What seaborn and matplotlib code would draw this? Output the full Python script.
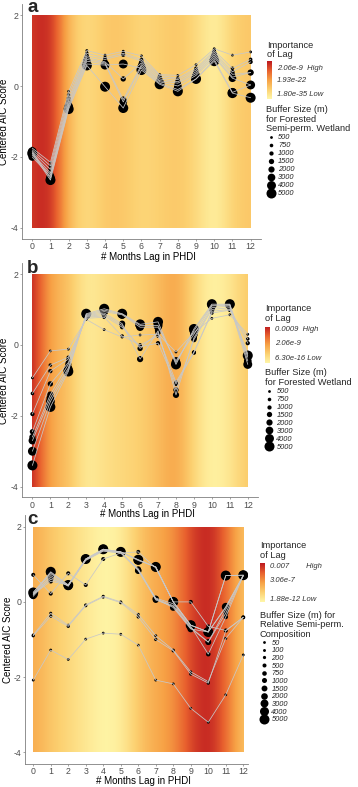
import numpy as np
import pandas as pd
import matplotlib
matplotlib.use("Agg")
import matplotlib.pyplot as plt
import seaborn as sns
from matplotlib.colors import LinearSegmentedColormap
from matplotlib.patches import Rectangle

sns.set_theme(style="ticks")
plt.rcParams["font.family"] = ["Liberation Sans", "DejaVu Sans"]
plt.rcParams["axes.unicode_minus"] = False

lags = list(range(13))

# ---- panel a: Forested Semi-perm. Wetland ----
buffers_a = [500, 750, 1000, 1500, 2000, 3000, 4000, 5000]
aic_a = [
    [-1.75, -2.15, -0.15, 1.00, 0.87, 0.98, 0.85, 0.32, 0.30, 0.60, 1.05, 0.87, 0.96],
    [-1.80, -2.25, -0.25, 0.92, 0.80, 0.92, 0.75, 0.30, 0.22, 0.50, 1.00, 0.50, 0.75],
    [-1.85, -2.35, -0.35, 0.85, 0.75, 0.88, 0.70, 0.25, 0.18, 0.45, 0.95, 0.40, 0.68],
    [-1.90, -2.45, -0.42, 0.80, 0.68, 0.20, 0.65, 0.20, 0.12, 0.40, 0.90, 0.33, 0.38],
    [-1.95, -2.50, -0.50, 0.75, 0.65, -0.38, 0.60, 0.15, 0.08, 0.35, 0.85, 0.25, 0.38],
    [-2.00, -2.55, -0.55, 0.70, 0.62, -0.45, 0.55, 0.12, 0.00, 0.30, 0.80, 0.22, 0.03],
    [-1.85, -2.60, -0.60, 0.62, 0.59, 0.62, 0.50, 0.08, -0.10, 0.20, 0.75, -0.18, 0.03],
    [-1.90, -2.65, -0.65, 0.58, -0.02, -0.62, 0.45, 0.05, -0.15, 0.20, 0.70, -0.20, -0.33],
]
importance_a = [1.6e-12, 2.06e-9, 2.5e-26, 1.6e-31, 1.3e-27, 1.3e-27, 3.2e-30,
                6.3e-29, 1.3e-27, 3.2e-30, 1.80e-35, 6.3e-29, 1.3e-27]
imp_labels_a = ["2.06e-9  High", "1.93e-22", "1.80e-35 Low"]

# ---- panel b: Forested Wetland ----
buffers_b = [500, 750, 1000, 1500, 2000, 3000, 4000, 5000]
aic_b = [
    [-0.93, -0.17, -0.12, 0.72, 0.43, 0.22, 0.28, 0.30, -0.20, 0.35, 0.75, 0.85, 0.30],
    [-1.37, -0.57, -0.35, 0.75, 0.78, 0.25, 0.00, 0.25, -1.05, -0.20, 0.90, 0.98, 0.17],
    [-1.95, -0.74, -0.40, 0.78, 0.82, 0.50, -0.05, 0.05, -1.10, -0.22, 0.95, 1.00, 0.05],
    [-2.45, -1.10, -0.50, 0.80, 0.86, 0.55, -0.10, 0.35, -1.27, 0.15, 1.00, 1.05, -0.25],
    [-2.60, -1.40, -0.55, 0.82, 0.90, 0.60, -0.40, 0.40, -1.41, 0.20, 1.05, 1.10, -0.35],
    [-2.70, -1.50, -0.65, 0.84, 0.94, 0.85, 0.50, 0.50, -0.45, 0.30, 1.10, 1.12, -0.45],
    [-3.00, -1.60, -0.70, 0.86, 0.98, 0.87, 0.55, 0.55, -0.50, 0.40, 1.12, 1.14, -0.55],
    [-3.40, -1.75, -0.75, 0.88, 1.02, 0.88, 0.58, 0.65, -0.55, 0.45, 1.15, 1.15, -0.30],
]
importance_b = [9e-4, 1.9e-10, 1.1e-11, 2.5e-15, 4.0e-14, 1.6e-13, 6.9e-13,
                1.1e-11, 7.9e-10, 1.6e-13, 6.30e-16, 1.0e-14, 2.8e-12]
imp_labels_b = ["0.0009  High", "2.06e-9", "6.30e-16 Low"]

# ---- panel c: Relative Semi-perm. Composition ----
buffers_c = [50, 100, 200, 500, 750, 1000, 1500, 2000, 3000, 4000, 5000]
aic_c = [
    [-2.08, -1.28, -1.53, -0.99, -0.83, -0.86, -1.15, -2.08, -2.18, -2.83, -3.20, -2.47, -1.41],
    [-0.88, -0.30, -0.62, -0.08, 0.15, 0.00, -0.33, -0.90, -1.28, -1.86, -2.12, -0.97, -0.41],
    [-0.90, -0.38, -0.65, -0.10, 0.13, -0.02, -0.40, -1.00, -1.30, -1.92, -2.16, -0.77, -0.41],
    [0.72, 0.22, 0.76, 0.45, 1.14, 1.30, 1.33, 0.90, 0.00, 0.00, -0.65, -0.76, -0.41],
    [0.20, 0.55, 0.45, 1.10, 1.35, 1.30, 0.85, 0.10, -0.05, -0.65, -1.39, -0.40, 0.70],
    [0.22, 0.60, 0.45, 1.12, 1.36, 1.30, 0.88, 0.08, -0.10, -0.68, -1.07, -0.30, 0.70],
    [0.15, 0.65, 0.42, 1.12, 1.38, 1.32, 0.85, 0.05, -0.12, -0.70, -1.07, -0.20, 0.70],
    [0.18, 0.70, 0.42, 1.13, 1.38, 1.32, 0.83, 0.08, -0.15, -0.72, -0.80, -0.15, 0.70],
    [0.25, 0.75, 0.45, 1.14, 1.40, 1.33, 1.10, 0.93, 0.00, -0.62, -0.80, -0.13, 0.71],
    [0.20, 0.78, 0.43, 1.14, 1.40, 1.33, 1.12, 0.93, 0.00, -0.62, -0.80, 0.70, 0.71],
    [0.25, 0.80, 0.45, 1.14, 1.40, 1.33, 1.12, 0.93, 0.00, -0.62, -0.80, 0.70, 0.71],
]
importance_c = [3.8e-8, 1.4e-9, 1.5e-10, 1.7e-11, 1.88e-12, 5.6e-12, 1.4e-9,
                3.8e-8, 3.5e-7, 2.6e-4, 0.007, 9.5e-6, 1.4e-9]
imp_labels_c = ["0.007        High", "3.06e-7", "1.88e-12 Low"]

cmap = LinearSegmentedColormap.from_list(
    "imp", ["#FFF6A8", "#FCD070", "#F7A145", "#E8602E", "#BD1A20"])

W, H = 358, 787
fig = plt.figure(figsize=(W / 100, H / 100), dpi=100)


def px_rect(x0, y0, x1, y1):
    # pixel box (top-left origin) -> figure fraction rect
    return [x0 / W, 1 - y1 / H, (x1 - x0) / W, (y1 - y0) / H]


def draw_panel(letter, buffers, aic, importance, imp_labels, size_title, lay):
    ax = fig.add_axes(px_rect(*lay["axes"]))
    ax.patch.set_visible(False)
    df = pd.DataFrame([(b, l, v) for b, row in zip(buffers, aic) for l, v in zip(lags, row)],
                      columns=["buffer", "lag", "aic"])
    logimp = np.log10(np.array(importance))
    im = ax.imshow(logimp[np.newaxis, :], cmap=cmap, vmin=logimp.min(), vmax=logimp.max(),
                   extent=(-0.5, 12.5, -4, 2), aspect="auto", interpolation="bicubic", zorder=0)
    im.set_clip_path(Rectangle((0, -4), 12, 6, transform=ax.transData))

    sns.scatterplot(data=df, x="lag", y="aic", size="buffer", sizes=(4, 52),
                    color="black", linewidth=0, legend="full", ax=ax, zorder=2)
    sns.lineplot(data=df, x="lag", y="aic", units="buffer", estimator=None,
                 color="#c8c8c8", linewidth=0.55, legend=False, ax=ax, zorder=3)

    ax.set_xlim(*lay["xlim"])
    ax.set_ylim(-4.3, 2.3)
    ax.set_xticks(lags)
    ax.set_yticks([-4, -2, 0, 2])
    ax.tick_params(labelsize=6.3, labelcolor="#4d4d4d", length=1.5, width=0.5,
                   color="#7f7f7f", pad=1.0)
    for s in ["top", "right"]:
        ax.spines[s].set_visible(False)
    for s in ["left", "bottom"]:
        ax.spines[s].set_color("#7f7f7f")
        ax.spines[s].set_linewidth(0.6)
    ax.set_xlabel("# Months Lag in PHDI", fontsize=7, color="black")
    ax.set_ylabel("Centered AIC Score", fontsize=7, color="black")
    ax.xaxis.set_label_coords(*lay["xlab"])
    ax.yaxis.set_label_coords(-0.055, 0.5)

    fig.text(lay["letter"][0] / W, 1 - lay["letter"][1] / H, letter, fontsize=13.5,
             fontweight="bold", va="baseline", ha="left")

    # importance colour bar legend
    tx, ty = lay["imp_title"]
    fig.text(tx / W, 1 - ty / H, "Importance\nof Lag", fontsize=6.7, va="top", ha="left",
             linespacing=1.1)
    bx, by, bw, bh = lay["bar"]
    bax = fig.add_axes(px_rect(bx, by, bx + bw, by + bh))
    bax.imshow(np.linspace(0, 1, 64)[:, np.newaxis], origin="lower", cmap=cmap,
               aspect="auto")
    bax.set_axis_off()
    for lab, yy in zip(imp_labels, lay["imp_lab_y"]):
        fig.text(lay["imp_lab_x"] / W, 1 - yy / H, lab, fontsize=5.5, fontstyle="italic",
                 color="#333333", va="center", ha="left")

    # buffer size legend
    lx, ly = lay["size_leg"]
    sns.move_legend(ax, "upper left", bbox_to_anchor=(lx / W, 1 - ly / H),
                    bbox_transform=fig.transFigure, frameon=False, title=size_title,
                    fontsize=5.3, labelspacing=lay["lspace"], handlelength=1.2,
                    handletextpad=0.35, borderpad=0, borderaxespad=0, alignment="left")
    leg = ax.get_legend()
    leg.get_title().set_fontsize(6.7)
    leg.get_title().set_linespacing(1.1)
    for t in leg.get_texts():
        t.set_fontstyle("italic")
        t.set_color("#222222")
    return ax


lay_a = dict(axes=(21.7, 4.4, 261, 238.6), xlim=(-0.58, 12.57), xlab=(0.53, -0.058),
             letter=(27, 11.7), imp_title=(267, 40.5), bar=(267, 61, 4.5, 38),
             imp_lab_x=277, imp_lab_y=[69, 81, 94], size_leg=(266.5, 105), lspace=0.11)
lay_b = dict(axes=(22, 263.4, 258, 497.3), xlim=(-0.58, 12.57), xlab=(0.53, -0.052),
             letter=(27, 273.3), imp_title=(265, 304), bar=(265, 327, 5, 36.5),
             imp_lab_x=275, imp_lab_y=[329.7, 343.3, 358.3], size_leg=(265, 368.5),
             lspace=0.11)
lay_c = dict(axes=(25, 515.4, 248, 763.6), xlim=(-0.47, 12.27), xlab=(0.53, -0.05),
             letter=(27, 524), imp_title=(260, 541.5), bar=(260, 563.3, 5, 38.4),
             imp_lab_x=270, imp_lab_y=[566.7, 580.7, 599.3], size_leg=(260, 610.5),
             lspace=0.07)

draw_panel("a", buffers_a, aic_a, importance_a, imp_labels_a,
           "Buffer Size (m)\nfor Forested\nSemi-perm. Wetland", lay_a)
draw_panel("b", buffers_b, aic_b, importance_b, imp_labels_b,
           "Buffer Size (m)\nfor Forested Wetland", lay_b)
draw_panel("c", buffers_c, aic_c, importance_c, imp_labels_c,
           "Buffer Size (m) for\nRelative Semi-perm.\nComposition", lay_c)

fig.savefig("out.png", dpi=100)
